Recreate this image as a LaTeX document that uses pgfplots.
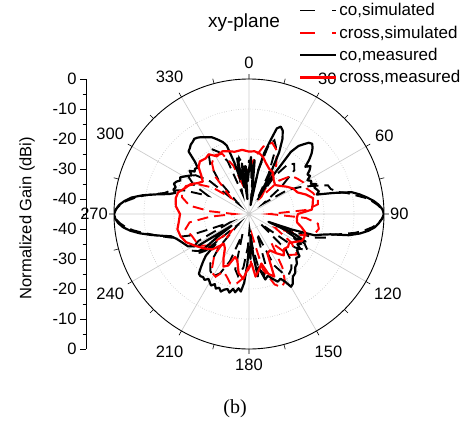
\documentclass[border=0pt]{standalone}
\usepackage{fontspec}
\setmainfont{Liberation Sans}
\newfontfamily\capfont{Liberation Serif}
\usepackage{pgfplots}
\usepgfplotslibrary{polar}
\pgfplotsset{compat=1.18}
\usepackage{pgfplotstable}

% angle t in degrees (0 = top, clockwise), gain g in dBi
\pgfplotstableread{
t g
0 -30
2 -26
4 -33
6 -27
8 -37
10 -42
12 -30
14 -24
16 -20
18 -15
20 -14
22 -15
24 -17.5
26 -22
28 -30
30 -38
32 -30
34 -20
36 -17
38 -15.5
40 -14
42 -13.5
44 -14.5
46 -16
48 -18
50 -20.5
52 -19
54 -20
56 -21.5
58 -21
60 -22.5
62 -21.5
64 -22
66 -20.5
68 -21.5
70 -21
72 -20.5
74 -21.5
76 -16
78 -10
80 -7.5
82 -5.3
84 -3.2
86 -1.6
88 -0.5
90 0
92 -0.6
94 -1.6
96 -2.8
98 -4.8
100 -7.5
102 -11
104 -17
106 -20
108 -22
110 -30
112 -38
114 -28
116 -24
118 -28
120 -25
122 -26
124 -24.5
127 -25
130 -23
133 -23.5
136 -22
139 -21.5
142 -20
145 -19.5
148 -17.5
150 -17
152 -19.5
154 -21
157 -20.5
160 -22
163 -23.5
166 -22.5
168 -25
170 -27
172 -24
174 -31
176 -38
178 -30
180 -34
182 -28
184 -22
186 -19
188 -20
190 -18.5
192 -19.5
194 -18
196 -19
198 -18.5
200 -17.5
202 -18.5
204 -17.8
206 -19
208 -18
210 -18.8
212 -19.5
214 -18.5
216 -19
218 -18.7
220 -19
222 -21
224 -23
226 -25
228 -30
230 -26
232 -24
234 -32
236 -38
238 -25
240 -23.5
242 -22
245 -21.3
248 -20.5
251 -19.5
254 -18
256 -15
258 -11.5
260 -8
262 -5
264 -2.8
266 -1.3
268 -0.4
270 0
272 -0.6
274 -1.6
276 -3.3
278 -5.5
280 -9
282 -13.5
284 -17.5
286 -19.5
288 -18.5
290 -19
292 -18
294 -18.5
296 -19.5
298 -19
300 -20
302 -21
304 -22
306 -20.5
308 -22
310 -21.5
312 -22
314 -20
316 -16
318 -15.5
320 -14.8
322 -14.5
324 -14
326 -14.3
328 -14.8
330 -15.5
332 -16
334 -16.5
336 -17.5
338 -18.5
340 -19.5
342 -21
344 -27
346 -33
348 -26
350 -36
352 -28
354 -40
356 -29
358 -34
360 -30
}\comeas

\pgfplotstableread{
t g
0 -27
5 -31
8 -40
12 -30
16 -21
19 -19
22 -21
26 -30
30 -40
34 -30
38 -24
42 -22.5
46 -24
50 -31
54 -39
58 -30
62 -26
66 -22
70 -17
73 -16.5
76 -14.5
78 -11.5
80 -9
82 -6
84 -3.8
86 -2
88 -0.6
90 0
92 -0.6
94 -1.8
96 -3.5
98 -6
100 -9
102 -13
104 -16.5
107 -18
110 -22
114 -33
118 -24
122 -22
126 -26
130 -40
134 -28
138 -24
142 -22
146 -21
150 -22
154 -26
158 -38
162 -27
166 -24
170 -27
174 -34
178 -40
182 -34
186 -27
190 -24
194 -26
198 -38
202 -28
206 -23
210 -21
214 -22
218 -24
222 -30
226 -40
230 -28
234 -24
238 -22
242 -26
246 -38
250 -24
253 -18
256 -14.5
258 -12
260 -9
262 -6
264 -3.6
266 -1.8
268 -0.5
270 0
272 -0.6
274 -1.9
276 -3.8
278 -6.5
280 -9.5
282 -13
284 -16
287 -18
290 -22
294 -30
298 -24
302 -21
306 -23
310 -28
314 -40
318 -30
322 -24
326 -21
330 -20
334 -22
338 -26
342 -38
346 -30
350 -26
354 -29
357 -34
360 -27
}\cosim

\pgfplotstableread{
t g
0 -30
6 -26
12 -22
18 -20
24 -22
30 -27
36 -38
42 -30
48 -26
54 -25
60 -24
66 -24
72 -22.5
78 -21.5
82 -21.8
86 -26
90 -38
94 -26
98 -21.8
102 -21.2
106 -22
112 -26
118 -35
124 -28
130 -24
136 -26
142 -33
148 -24
152 -19.5
156 -18.3
160 -20
166 -26
172 -38
178 -28
184 -24
190 -21.5
195 -21
200 -23
204 -24
208 -21.3
213 -22
220 -27
226 -37
232 -28
238 -25
244 -25
250 -24.5
256 -23
262 -25
266 -32
270 -40
274 -32
278 -25
284 -22
288 -21.5
294 -22
300 -25
306 -30
312 -37
318 -28
324 -24
330 -22.3
336 -23
342 -28
348 -35
354 -33
360 -30
}\crsim

\pgfplotstableread{
t g
0 -24.2
5 -24
10 -24.5
14 -25.5
18 -27
24 -28.5
30 -29
36 -31
42 -32
48 -31
54 -29.5
60 -28
66 -27.3
71 -25
76 -23
81 -23.5
86 -24
90 -28.7
95 -29
100 -28.7
104 -27
108 -25.3
113 -25
117 -25.2
121 -27
126 -28.5
130 -28
135 -28.5
140 -27
145 -29
150 -31
155 -30.5
158 -22.5
162 -24
166 -28
170 -26
174 -24
177 -28.5
181 -27
185 -23.3
190 -25
194 -29
198 -30
202 -26.5
206 -25.5
210 -28
215 -31
220 -32
226 -28
233 -26
240 -24
246 -22
252 -21
258 -20.6
264 -21.5
270 -22
276 -20.5
282 -20
287 -20.3
292 -22
297 -23.1
301 -25
305 -26.2
309 -24.5
313 -22
317 -21
322 -21.5
326 -21
331 -23
337 -22.3
342 -23
347 -23.7
354 -23.5
360 -24.2
}\crmeas

\begin{document}
\begin{tikzpicture}
\begin{polaraxis}[
  at={(249pt,-214pt)}, anchor=center,
  scale only axis, width=270pt, height=270pt,
  font=\fontsize{16.5}{19}\selectfont,
  xmin=0, xmax=360, ymin=0, ymax=45,
  xtick={0,30,...,330},
  xticklabels={90,60,30,0,330,300,270,240,210,180,150,120},
  xticklabel style={inner xsep=6pt, inner ysep=10pt},
  minor x tick num=1,
  xtick align=inside,
  major tick length=5pt, minor tick length=5pt,
  tick style={black, line width=0.6pt},
  ytick={5,15,25,35}, yticklabels={},
  ytick style={draw=none},
  grid=major,
  major x grid style={gray!40, line width=0.7pt},
  major y grid style={gray!60, dotted, line width=0.7pt},
  axis line style={black, line width=0.9pt},
  y axis line style={draw=none},
  legend style={at={(0.674,1.295)}, anchor=north west, draw=none, fill=none,
                font=\fontsize{17}{19}\selectfont, row sep=4.5pt},
  legend cell align=left,
  legend image code/.code={\draw[#1] (0pt,0pt) -- (36pt,0pt);},
]
\addplot[black, line width=1.9pt, dash pattern=on 11pt off 6pt,
         legend image post style={dash pattern=on 15pt off 17pt on 4pt}]
  table[x expr=90-\thisrow{t}, y expr=\thisrow{g}+45] {\cosim};
\addlegendentry{co,simulated}
\addplot[red, line width=1.9pt, dash pattern=on 11pt off 6pt,
         legend image post style={dash pattern=on 15pt off 17pt on 4pt}]
  table[x expr=90-\thisrow{t}, y expr=\thisrow{g}+45] {\crsim};
\addlegendentry{cross,simulated}
\addplot[black, line width=2.2pt, line join=round]
  table[x expr=90-\thisrow{t}, y expr=\thisrow{g}+45] {\comeas};
\addlegendentry{co,measured}
\addplot[red, line width=2.2pt, line join=round]
  table[x expr=90-\thisrow{t}, y expr=\thisrow{g}+45] {\crmeas};
\addlegendentry{cross,measured}
\end{polaraxis}

\begin{axis}[
  at={(86pt,-214pt)}, anchor=west,
  scale only axis, width=10pt, height=270pt,
  font=\fontsize{16.5}{19}\selectfont,
  xmin=0, xmax=1, ymin=-45, ymax=45,
  hide x axis, axis y line*=left,
  ytick={-45,-35,...,45},
  yticklabels={0,-10,-20,-30,-40,-40,-30,-20,-10,0},
  minor y tick num=1,
  tick align=outside,
  major tick length=6pt, minor tick length=3.5pt,
  tick style={black, line width=0.7pt},
  y axis line style={black, line width=0.9pt},
]
\end{axis}

\node[rotate=90, font=\fontsize{16.5}{19}\selectfont] at (27pt,-218pt) {Normalized Gain (dBi)};
\node[font=\fontsize{19}{22}\selectfont] at (244pt,-23pt) {xy-plane};
\node[font=\capfont\fontsize{20}{23}\selectfont] at (235pt,-409pt) {(b)};

\pgfresetboundingbox
\path[use as bounding box] (0pt,0pt) rectangle (464pt,-425pt);
\end{tikzpicture}
\end{document}
